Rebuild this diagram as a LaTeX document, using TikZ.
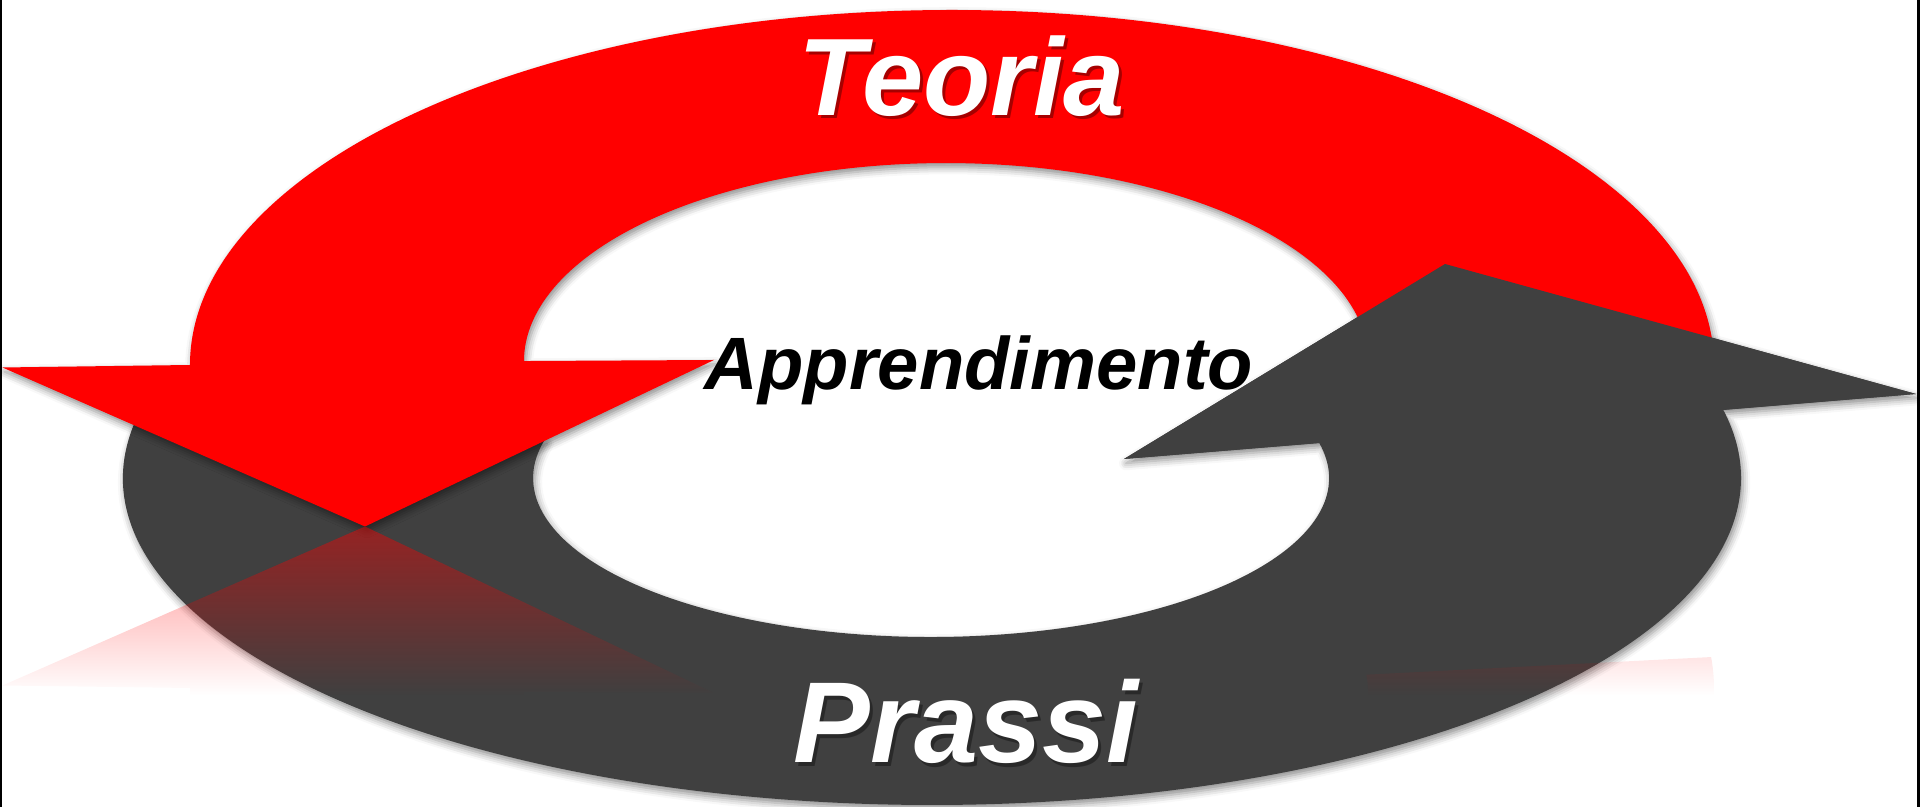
\documentclass[tikz,border=0pt]{standalone}
\usepackage{fontspec}
\setmainfont{Liberation Sans}
\usetikzlibrary{fadings,shadows.blur}

\definecolor{prassigray}{RGB}{64,64,64}
\tikzfading[name=reflfade, top color=transparent!55, bottom color=transparent!100]

% the two looped arrows, in pixel units
\newcommand{\teoriapath}{(190,-365) arc[start angle=180, end angle=-5, x radius=762, y radius=355]
  -- (1366.4,-378.3) arc[start angle=-5, end angle=180, x radius=422, y radius=198]
  -- (714,-360) -- (365,-526.5) -- (2.5,-367.5) -- cycle}
\newcommand{\prassipath}{(135.3,-421.2) arc[start angle=170, end angle=372, x radius=809, y radius=327]
  -- (1916,-394) -- (1445,-264) -- (1124,-459)
  -- (1319.3,-443.05) arc[start angle=12.7, end angle=-194, x radius=398, y radius=159] -- cycle}

\tikzset{
  loopshadow/.style={blur shadow={shadow xshift=0.6pt, shadow yshift=-1.2pt, shadow blur radius=2pt, shadow opacity=45}},
  bigword/.style={font=\bfseries\itshape\fontsize{#1}{#1}\selectfont, anchor=base, inner sep=0pt},
}

\begin{document}
\begin{tikzpicture}[x=0.01cm, y=0.01cm]
  \useasboundingbox (0,0) rectangle (1920,-807);

  \fill[prassigray, loopshadow] \prassipath;
  \fill[red, loopshadow] \teoriapath;
  \fill[prassigray] (1445,-264) -- (1916,-394) -- (1124,-459) -- cycle;

  % reflection
  \begin{scope}
    \clip[shift={(0,-1053)}, yscale=-1] \teoriapath;
    \fill[red, path fading=reflfade] (0,-526.5) rectangle (1920,-695);
  \end{scope}

  \node[bigword=31.3pt, text=black, opacity=.35] (teoria shadow) at (965,-118.5) {Teoria};
  \node[bigword=31.3pt, text=white] (teoria) at (962,-116) {Teoria};
  \node[bigword=32.7pt, text=black, opacity=.35] (prassi shadow) at (969,-766.5) {Prassi};
  \node[bigword=32.7pt, text=white] (prassi) at (966,-763) {Prassi};
  \node[bigword=21.1pt] (apprendimento) at (979,-390) {Apprendimento};

  \fill (0,0) rectangle (2.5,-807);
  \fill (1917,0) rectangle (1920,-807);
\end{tikzpicture}
\end{document}
